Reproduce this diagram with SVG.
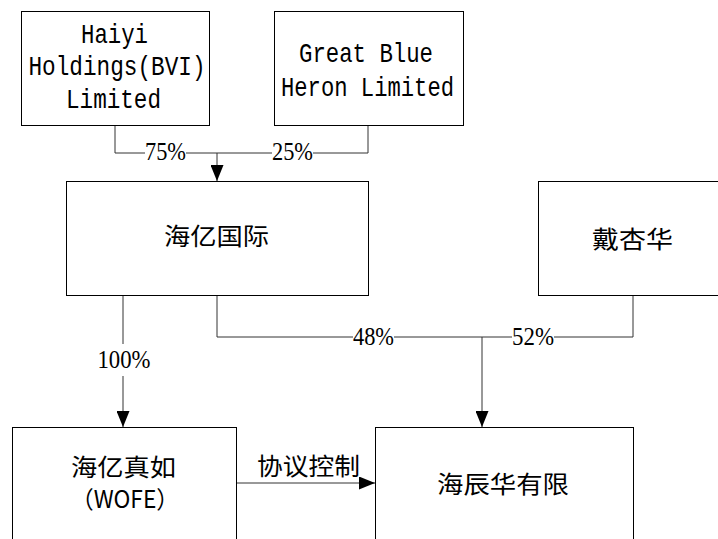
<svg xmlns="http://www.w3.org/2000/svg" width="718" height="539" viewBox="0 0 718 539">
<defs>
<marker id="ah" markerWidth="16" markerHeight="13" refX="16" refY="6.5" viewBox="0 0 16 13" markerUnits="userSpaceOnUse" orient="auto">
<path d="M0,0 L16,6.5 L0,13 Z" fill="#000"/>
</marker>
</defs>
<style>
.box{fill:#fff;stroke:#000;stroke-width:1}
.ln{fill:none;stroke:#333;stroke-width:1}
.en{font-family:"Liberation Mono",monospace;font-size:28px;fill:#000;text-anchor:middle}
.cn{font-family:"Noto Sans CJK SC",sans-serif;font-size:24px;fill:#000;text-anchor:middle}
.pc{font-family:"Liberation Serif",serif;font-size:26px;fill:#000;text-anchor:middle}
.bg{fill:#fff}
</style>
<rect width="718" height="539" fill="#fff"/>
<g id="connectors">
<path class="ln" d="M115,125 V153 H368 V125"/>
<path class="ln" d="M217,153 V181" marker-end="url(#ah)"/>
<path class="ln" d="M123,295 V427" marker-end="url(#ah)"/>
<path class="ln" d="M217,295 V337 H633 V295"/>
<path class="ln" d="M482,337 V427" marker-end="url(#ah)"/>
<path class="ln" d="M236,483 H375" marker-end="url(#ah)"/>
<rect class="bg" x="145" y="144" width="41" height="18"/>
<text class="pc" x="165.5" y="160" textLength="41" lengthAdjust="spacingAndGlyphs">75%</text>
<rect class="bg" x="272" y="144" width="41" height="18"/>
<text class="pc" x="292.5" y="160" textLength="41" lengthAdjust="spacingAndGlyphs">25%</text>
<rect class="bg" x="96" y="344" width="56" height="32"/>
<text class="pc" x="124" y="368" textLength="53" lengthAdjust="spacingAndGlyphs">100%</text>
<rect class="bg" x="353" y="328" width="41" height="18"/>
<text class="pc" x="373.5" y="345" textLength="41" lengthAdjust="spacingAndGlyphs">48%</text>
<rect class="bg" x="512" y="328" width="42" height="18"/>
<text class="pc" x="533" y="345" textLength="42" lengthAdjust="spacingAndGlyphs">52%</text>
<text class="cn" x="308.5" y="475" textLength="103" lengthAdjust="spacingAndGlyphs">协议控制</text>
</g>
<g id="haiyi-bvi">
<rect class="box" x="21.5" y="11.5" width="188" height="114"/>
<text class="en" x="114.5" y="43" textLength="67" lengthAdjust="spacingAndGlyphs">Haiyi</text>
<text class="en" x="117" y="75" textLength="177" lengthAdjust="spacingAndGlyphs">Holdings(BVI)</text>
<text class="en" x="113.5" y="108" textLength="95" lengthAdjust="spacingAndGlyphs">Limited</text>
</g>
<g id="great-blue-heron">
<rect class="box" x="274.5" y="11.5" width="189" height="114"/>
<text class="en" x="366" y="62" textLength="134" lengthAdjust="spacingAndGlyphs">Great Blue</text>
<text class="en" x="367.5" y="96" textLength="173" lengthAdjust="spacingAndGlyphs">Heron Limited</text>
</g>
<g id="haiyi-intl">
<rect class="box" x="66.5" y="181.5" width="302" height="114"/>
<text class="cn" x="216.5" y="245" textLength="105" lengthAdjust="spacingAndGlyphs">海亿国际</text>
</g>
<g id="dai-xinghua">
<rect class="box" x="538.5" y="181.5" width="190" height="114"/>
<text class="cn" x="632.5" y="248" textLength="81" lengthAdjust="spacingAndGlyphs">戴杏华</text>
</g>
<g id="haiyi-zhenru">
<rect class="box" x="12.5" y="427.5" width="224" height="120"/>
<text class="cn" x="123.5" y="476" textLength="105" lengthAdjust="spacingAndGlyphs">海亿真如</text>
<text class="cn" x="125" y="508" textLength="108" lengthAdjust="spacingAndGlyphs">（WOFE）</text>
</g>
<g id="haichenhua">
<rect class="box" x="375.5" y="427.5" width="258" height="120"/>
<text class="cn" x="503" y="493" textLength="132" lengthAdjust="spacingAndGlyphs">海辰华有限</text>
</g>
</svg>
